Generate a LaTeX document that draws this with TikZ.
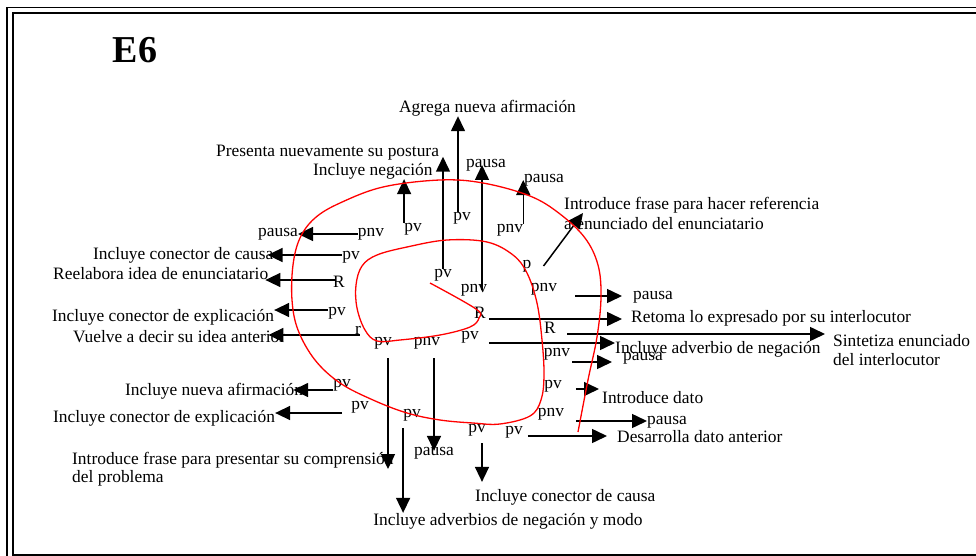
\documentclass[tikz,border=0pt]{standalone}
\usepackage{fontspec}
\setmainfont{Liberation Serif}
\usetikzlibrary{arrows.meta}
\begin{document}
\begin{tikzpicture}[x=1pt,y=-1pt,
  every node/.style={inner sep=0pt,font=\fontsize{17.4}{19}\selectfont},
  flecha/.style={line width=1.5pt,-{Triangle[length=15pt,width=14pt]}},
  espiral/.style={red,line width=1.3pt}]
\useasboundingbox (0,0) rectangle (976,556);
% marco
\draw[line width=1.5pt] (7,556) -- (7,7.5) -- (976,7.5);
\draw[line width=2pt] (976,13) -- (12.5,13) -- (12.5,554.5) -- (976,554.5);
\node[font=\fontsize{38}{40}\selectfont\bfseries] (titulo) at (135,50) {E6};

% etiquetas
\node (pvA) at (443,275) {pv};
\node (pvB) at (413,229) {pv};
\node (pvC) at (462,218) {pv};
\node (pnvA) at (474,290) {pnv};
\node (pnvB) at (510,230) {pnv};
\node (pP) at (527,266) {p};
\node (pnvC) at (371,234) {pnv};
\node (pvD) at (351,257) {pv};
\node (RA) at (339,282) {R};
\node (pvE) at (337,313) {pv};
\node (rA) at (358,330) {r};
\node (pvF) at (342,385) {pv};
\node (pvG) at (360,407) {pv};
\node (pvH) at (383,343) {pv};
\node (pnvD) at (427,343) {pnv};
\node (pvI) at (412,415) {pv};
\node (pvJ) at (477,430) {pv};
\node (pvK) at (514,432) {pv};
\node (pnvE) at (551,414) {pnv};
\node (pvL) at (553,386) {pv};
\node (pnvF) at (557,354) {pnv};
\node (pvM) at (470,337) {pv};
\node (RB) at (550,328) {R};
\node (RC) at (480,313) {R};
\node (pnvG) at (544,289) {pnv};

% textos arriba
\node (agrega) at (487.5,108) {Agrega nueva afirmación};
\node[anchor=west] (presenta) at (216,153) {Presenta nuevamente su postura};
\node[anchor=west] (negacion) at (313,171) {Incluye negación};
\node (pausaT) at (486,165) {pausa};
\node[anchor=west] (pausaR) at (524,180) {pausa};
\node[anchor=west,align=left,font=\fontsize{17.4}{20}\selectfont] (frase) at (564,213) {Introduce frase para hacer referencia\\a enunciado del enunciatario};
% textos izquierda
\node[anchor=west] (pausaL) at (258,234) {pausa};
\node[anchor=west] (causaL) at (93,255) {Incluye conector de causa};
\node[anchor=west] (reelabora) at (53,274) {Reelabora idea de enunciatario};
\node[anchor=west] (explicA) at (52,317) {Incluye conector de explicación};
\node[anchor=west] (vuelve) at (73,337) {Vuelve a decir su idea anterior};
\node[anchor=west] (nuevaA) at (125,391) {Incluye nueva afirmación};
\node[anchor=west] (explicB) at (53,418) {Incluye conector de explicación};
\node[anchor=west,align=left,font=\fontsize{17.4}{18}\selectfont] (compr) at (72,469) {Introduce frase para presentar su comprensión\\del problema};
% textos abajo
\node (pausaB) at (434,453) {pausa};
\node (adverbios) at (508,521) {Incluye adverbios de negación y modo};
\node[anchor=west] (causaB) at (475,497) {Incluye conector de causa};
% textos derecha
\node[anchor=west] (pausaG) at (633,297) {pausa};
\node[anchor=west] (retoma) at (631,318) {Retoma lo expresado por su interlocutor};
\node[anchor=west,align=left] (sintetiza) at (833,350.5) {Sintetiza enunciado\\del interlocutor};
\node[anchor=west] (negA) at (615,349) {Incluye adverbio de negación};
\node[anchor=west] (pausaF) at (623,358) {pausa};
\node[anchor=west] (dato) at (602,398) {Introduce dato};
\node[anchor=west] (pausaE) at (647,422) {pausa};
\node[anchor=west] (desarrolla) at (617,437) {Desarrolla dato anterior};

% flechas
\draw[flecha,shorten >=-4pt] (pvA.north) -- (pvA.north |- presenta.south);
\draw[flecha] (pvB.north west) -- (pvB.north west |- negacion.south);
\draw[flecha] ([xshift=-4pt]pvC.north) -- ([xshift=-4pt]pvC.north |- agrega.south);
\draw[flecha] ([xshift=8pt]pnvA.center) -- ([xshift=8pt]pnvA.center |- pausaT.center);
\draw[flecha] (pnvB.north east) -- (pnvB.north east |- pausaR.west);
\draw[flecha] ([xshift=12pt]pP.east) -- ([xshift=19pt]frase.west);
\draw[flecha] (pnvC.west) -- (pnvC.west -| pausaL.east);
\draw[flecha,shorten >=-6pt] ([yshift=2pt]pvD.west) -- ([yshift=2pt]pvD.west -| causaL.east);
\draw[flecha,shorten <=-3pt,shorten >=-3pt] ([yshift=2pt]RA.west) -- ([yshift=2pt]RA.west -| reelabora.east);
\draw[flecha] ([yshift=3pt]pvE.west) -- ([yshift=3pt]pvE.west -| explicA.east);
\draw[flecha,shorten <=-5pt,shorten >=-17pt] ([yshift=-5pt]rA.west) -- ([yshift=-5pt]rA.west -| vuelve.east);
\draw[flecha,shorten >=-10pt] ([yshift=-5pt]pvF.west) -- ([yshift=-5pt]pvF.west -| nuevaA.east);
\draw[flecha,shorten <=9pt] ([yshift=-6pt]pvG.west) -- ([yshift=-6pt]pvG.west -| explicB.east);
\draw[flecha,shorten <=9pt] ([xshift=5pt]pvH.south) -- ([xshift=5pt]pvH.south |- compr.center);
\draw[flecha,shorten <=9pt,shorten >=-4pt] (pausaB.north |- pnvD.south) -- (pausaB.north);
\draw[flecha,shorten <=7pt] (pvI.south west) -- (pvI.south west |- adverbios.north);
\draw[flecha,shorten <=7pt,shorten >=7pt] ([xshift=5pt]pvJ.south) -- ([xshift=5pt]pvJ.south |- causaB.north);
\draw[flecha,shorten <=5pt,shorten >=10pt] ([yshift=-4pt]pvK.east) -- ([yshift=-4pt]pvK.east -| desarrolla.west);
\draw[flecha,shorten <=12pt] ([yshift=-7pt]pnvE.east) -- ([yshift=-7pt]pnvE.east -| pausaE.west);
\draw[flecha,shorten <=14pt,shorten >=3pt] ([yshift=-3pt]pvL.east) -- ([yshift=-3pt]pvL.east -| dato.west);
\draw[flecha,shorten <=2pt,shorten >=11pt] ([yshift=-8pt]pnvF.east) -- ([yshift=-8pt]pnvF.east -| pausaF.west);
\draw[flecha,shorten <=10pt] ([yshift=-6pt]pvM.east) -- ([yshift=-6pt]pvM.east -| negA.west);
\draw[flecha,shorten <=11pt,shorten >=8pt] ([yshift=-6pt]RB.east) -- ([yshift=-6pt]RB.east -| sintetiza.west);
\draw[flecha,shorten <=3pt,shorten >=9pt] ([yshift=-6pt]RC.east) -- ([yshift=-6pt]RC.east -| retoma.west);
\draw[flecha,shorten <=18pt,shorten >=11pt] ([yshift=-7pt]pnvG.east) -- ([yshift=-7pt]pnvG.east -| pausaG.west);

% espiral
\draw[espiral] plot[smooth,tension=0.6] coordinates {(430,283) (476,309) (479,318) (470,327)
  (440,335) (400,340) (377,341) (365,330) (357,308) (356,285) (362,266) (377,255) (407,247)
  (447,240) (487,242) (513,255) (527,273) (537,303) (542,340) (544,375) (541,400) (530,416)
  (500,424) (473,423) (440,420) (407,413) (373,400) (340,383) (315,360) (298,330) (292,300)
  (293,265) (300,238) (315,218) (340,203) (383,187) (440,180) (483,183) (530,196) (560,214)
  (585,238) (598,265) (601,297) (597,337) (588,380) (578,432)};
\end{tikzpicture}
\end{document}
